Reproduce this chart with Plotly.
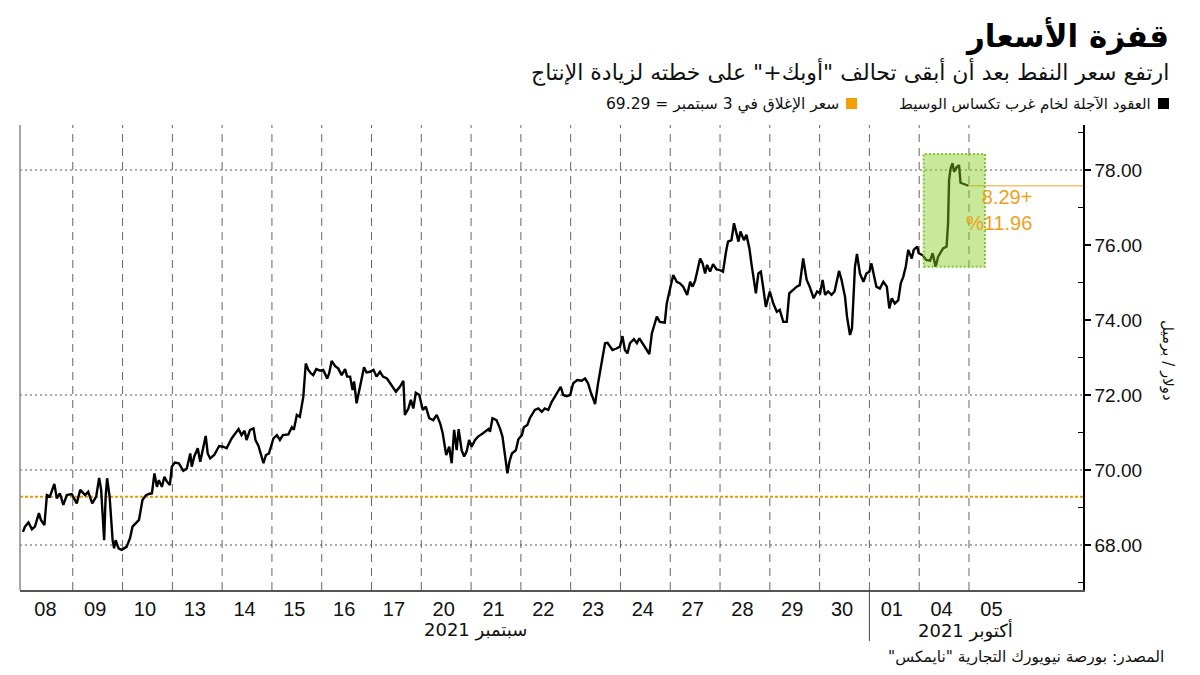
import plotly.graph_objects as go

# ---------------- data ----------------
DAY_LABELS = ["08", "09", "10", "13", "14", "15", "16", "17", "20", "21",
              "22", "23", "24", "27", "28", "29", "30", "01", "04", "05"]
MONTH_LABELS = ["سبتمبر 2021", "أكتوبر 2021"]
OCT_FIRST_DAY = 17          # index of "01" in DAY_LABELS

# time in trading-day units (day index + fraction of day), WTI futures price
TIME_A = [0.00, 0.04, 0.11, 0.18, 0.24, 0.32, 0.36, 0.43, 0.48, 0.54, 0.63, 0.68, 0.74, 0.81, 0.88, 0.98,
          1.08, 1.15, 1.25, 1.31, 1.39, 1.47, 1.53, 1.57, 1.59, 1.63, 1.66, 1.69, 1.74, 1.80, 1.83, 1.86,
          1.92, 1.98, 2.08, 2.15, 2.20, 2.29, 2.33, 2.40, 2.47, 2.53, 2.59, 2.64, 2.69, 2.73, 2.79, 2.84,
          2.89, 2.95, 2.99, 3.05, 3.13, 3.22, 3.29, 3.36, 3.39, 3.44, 3.51, 3.56, 3.62, 3.67, 3.71, 3.76,
          3.84, 3.94, 4.02, 4.09, 4.19, 4.33, 4.39, 4.45, 4.49, 4.56, 4.63, 4.67, 4.73, 4.78, 4.83, 4.88, 4.94]
PRICE_A = [68.35, 68.49, 68.60, 68.42, 68.49, 68.85, 68.67, 68.53, 69.33, 69.29, 69.63, 69.24, 69.38, 69.07, 69.33, 69.36,
           69.11, 69.47, 69.33, 69.42, 69.11, 69.29, 69.79, 69.47, 69.02, 68.13, 69.29, 69.78, 69.29, 68.13, 67.91, 68.13,
           67.91, 67.87, 67.95, 68.18, 68.49, 68.62, 68.67, 69.20, 69.33, 69.36, 69.38, 69.91, 69.55, 69.73, 69.55, 69.82,
           69.69, 69.60, 70.09, 70.20, 70.18, 69.98, 70.04, 70.44, 70.09, 70.36, 70.58, 70.22, 70.62, 70.91, 70.44, 70.31,
           70.40, 70.64, 70.62, 70.58, 70.84, 71.09, 70.93, 71.05, 70.80, 71.07, 71.11, 70.80, 70.64, 70.44, 70.18, 70.40, 70.44]

TIME_B = [5.03, 5.10, 5.16, 5.22, 5.33, 5.40, 5.44, 5.50, 5.56, 5.63, 5.68, 5.73, 5.78, 5.83, 5.89, 5.97,
          6.03, 6.11, 6.15, 6.20, 6.27, 6.33, 6.40, 6.47, 6.51, 6.57, 6.62, 6.65, 6.70, 6.75, 6.80, 6.85,
          6.90, 6.97, 7.04, 7.10, 7.17, 7.23, 7.31, 7.39, 7.49, 7.57, 7.64, 7.67, 7.74, 7.79, 7.84, 7.89,
          7.96, 8.03, 8.09, 8.16, 8.24, 8.31, 8.38, 8.43, 8.50, 8.56, 8.61, 8.66, 8.71, 8.75, 8.81, 8.86,
          8.91, 8.96, 9.01, 9.08, 9.14, 9.24, 9.35, 9.38, 9.43, 9.51, 9.58, 9.63, 9.68, 9.73, 9.77, 9.82,
          9.90, 9.95, 10.02, 10.06, 10.13]
PRICE_B = [70.84, 70.93, 70.80, 70.93, 70.95, 71.14, 71.07, 71.47, 71.42, 71.95, 72.84, 72.67, 72.58, 72.53, 72.69, 72.65,
           72.67, 72.44, 72.58, 72.91, 72.77, 72.71, 72.53, 72.69, 72.49, 72.49, 72.13, 72.36, 71.78, 72.13, 72.44, 72.74,
           72.60, 72.62, 72.67, 72.49, 72.62, 72.49, 72.44, 72.27, 72.09, 72.22, 72.38, 71.47, 71.64, 71.87, 71.64, 72.06,
           72.00, 71.60, 71.69, 71.38, 71.33, 71.47, 71.24, 70.98, 70.40, 70.62, 70.18, 71.07, 70.53, 71.09, 70.53, 70.36,
           70.49, 70.80, 70.62, 70.80, 70.89, 70.98, 71.09, 71.02, 71.38, 71.33, 71.11, 70.89, 70.44, 69.91, 70.22, 70.44,
           70.53, 70.82, 70.93, 71.14, 71.20]

TIME_C = [10.18, 10.28, 10.35, 10.42, 10.48, 10.55, 10.62, 10.68, 10.75, 10.80, 10.85, 10.92, 10.99, 11.05, 11.13, 11.22,
          11.29, 11.35, 11.40, 11.44, 11.49, 11.55, 11.62, 11.69, 11.74, 11.79, 11.84, 11.92, 11.99, 12.04, 12.09, 12.14,
          12.19, 12.27, 12.33, 12.38, 12.45, 12.51, 12.58, 12.63, 12.73, 12.79, 12.89, 12.93, 12.99, 13.06, 13.13, 13.19,
          13.26, 13.34, 13.40, 13.45, 13.50, 13.54, 13.60, 13.65, 13.70, 13.74, 13.80, 13.86, 13.93, 14.00, 14.06, 14.12,
          14.16, 14.23, 14.28, 14.33, 14.37, 14.41, 14.48, 14.53, 14.59, 14.63, 14.67, 14.72, 14.77, 14.82, 14.87, 14.92]
PRICE_C = [71.38, 71.60, 71.64, 71.55, 71.64, 71.60, 71.82, 71.95, 72.09, 72.22, 72.00, 71.97, 72.00, 72.31, 72.40, 72.38,
           72.44, 72.31, 72.09, 71.95, 71.76, 72.31, 72.80, 73.38, 73.39, 73.29, 73.20, 73.24, 73.29, 73.57, 73.20, 73.11,
           73.38, 73.49, 73.38, 73.51, 73.38, 73.24, 73.09, 73.64, 74.09, 73.95, 73.93, 74.44, 74.80, 75.20, 75.02, 74.98,
           74.89, 74.67, 75.02, 74.89, 75.05, 75.29, 75.64, 75.51, 75.24, 75.47, 75.29, 75.49, 75.35, 75.33, 75.29, 75.82,
           76.09, 76.13, 76.58, 76.31, 76.09, 76.36, 76.13, 76.27, 75.91, 75.51, 75.15, 74.71, 75.24, 75.29, 74.84, 74.35]

TIME_D = [15.00, 15.07, 15.14, 15.20, 15.27, 15.34, 15.39, 15.47, 15.54, 15.60, 15.67, 15.74, 15.80, 15.88, 15.95, 16.01,
          16.06, 16.11, 16.17, 16.24, 16.30, 16.39, 16.44, 16.51, 16.55, 16.61, 16.65, 16.71, 16.75, 16.81, 16.88, 16.94,
          17.00, 17.04, 17.09, 17.14, 17.21, 17.28, 17.35, 17.40, 17.45, 17.51, 17.58, 17.63, 17.68, 17.73, 17.78, 17.85,
          17.89, 17.96, 17.99, 18.07, 18.14, 18.22, 18.27, 18.33, 18.38, 18.43, 18.48, 18.55, 18.58, 18.60, 18.63, 18.67,
          18.70, 18.75, 18.80, 18.83, 18.88, 18.95, 18.99]
PRICE_D = [74.76, 74.44, 74.22, 74.27, 73.95, 73.95, 74.71, 74.80, 74.89, 74.93, 75.64, 75.07, 74.89, 74.58, 74.76, 74.71,
           75.07, 74.67, 74.76, 74.67, 74.76, 75.31, 75.07, 74.62, 74.09, 73.60, 73.78, 75.42, 75.76, 75.24, 75.02, 75.24,
           75.29, 75.51, 75.15, 74.89, 74.84, 75.02, 74.89, 74.31, 74.58, 74.44, 74.53, 74.98, 75.15, 75.42, 75.87, 75.64,
           75.87, 75.96, 75.78, 75.73, 75.60, 75.58, 75.78, 75.42, 75.69, 75.82, 75.91, 75.96, 76.58, 77.73, 78.04, 78.18,
           77.95, 78.07, 78.13, 77.66, 77.64, 77.60, 77.58]

CLOSE_SEP3 = 69.29
LAST_PRICE = 77.58
GRID_LEVELS = [68, 70, 72, 78]
Y_TICKS = [68, 70, 72, 74, 76, 78]
HIGHLIGHT_T = [18.09, 19.32]
HIGHLIGHT_P = [75.42, 78.43]

# ---------------- build ----------------
TIME = TIME_A + TIME_B + TIME_C + TIME_D
PRICE = PRICE_A + PRICE_B + PRICE_C + PRICE_D
assert len(TIME) == len(PRICE)

X_MIN, X_MAX = -0.06, 21.29
Y_MIN, Y_MAX = 66.8, 79.2

# layout geometry (pixels)
W, H = 1200, 675
L, R, T, B = 20, 1083, 125, 590
PW, PH = R - L, B - T


def px(x):
    return (x - L) / PW


def py(y):
    return (B - y) / PH


ORANGE = "#EFA11A"
AR = "DejaVu Sans"
NUM = "Liberation Sans"

fig = go.Figure()
fig.add_trace(go.Scatter(x=TIME, y=PRICE, mode="lines",
                         line=dict(color="black", width=2.4), hoverinfo="skip",
                         showlegend=False))

shapes = []
# vertical day separators
for k in range(1, len(DAY_LABELS)):
    shapes.append(dict(type="line", xref="x", yref="paper", x0=k, x1=k, y0=0, y1=1,
                       line=dict(color="#666", width=1, dash="8px,6px"), layer="below"))
# month separator extending below axis
shapes.append(dict(type="line", xref="x", yref="paper", x0=OCT_FIRST_DAY, x1=OCT_FIRST_DAY,
                   y0=py(641), y1=0, line=dict(color="#444", width=1)))
# horizontal gridlines
for g in GRID_LEVELS:
    shapes.append(dict(type="line", xref="paper", yref="y", x0=0, x1=1, y0=g, y1=g,
                       line=dict(color="#555", width=1, dash="2px,3px"), layer="below"))
# 3 Sept close line
shapes.append(dict(type="line", xref="paper", yref="y", x0=0, x1=1, y0=CLOSE_SEP3, y1=CLOSE_SEP3,
                   line=dict(color="#E59A00", width=2, dash="3px,2px"), layer="below"))
# latest price line
shapes.append(dict(type="line", xref="x", yref="y", x0=TIME[-1], x1=X_MAX, y0=LAST_PRICE, y1=LAST_PRICE,
                   line=dict(color="#F5C070", width=1.6), layer="below"))
# highlight box
shapes.append(dict(type="rect", xref="x", yref="y", x0=HIGHLIGHT_T[0], x1=HIGHLIGHT_T[1],
                   y0=HIGHLIGHT_P[0], y1=HIGHLIGHT_P[1],
                   fillcolor="rgba(133,204,30,0.45)",
                   line=dict(color="#86C232", width=2, dash="2px,2px"), layer="above"))
# left frame line
shapes.append(dict(type="line", xref="paper", yref="paper", x0=0, x1=0, y0=0, y1=1,
                   line=dict(color="#888", width=1.5)))
# legend squares
shapes.append(dict(type="rect", xref="paper", yref="paper", x0=px(1158), x1=px(1169),
                   y0=py(109), y1=py(98), fillcolor="black", line=dict(width=0)))
shapes.append(dict(type="rect", xref="paper", yref="paper", x0=px(846), x1=px(857),
                   y0=py(109), y1=py(98), fillcolor="#F29F05", line=dict(width=0)))

change = LAST_PRICE - CLOSE_SEP3
pct = change / CLOSE_SEP3 * 100

annotations = [
    dict(text="<b>قفزة الأسعار</b>", x=px(1171), y=py(36), xanchor="right", yanchor="middle",
         font=dict(family=AR, size=31, color="black")),
    dict(text='ارتفع سعر النفط بعد أن أبقى تحالف "أوبك+" على خطته لزيادة الإنتاج', x=px(1171), y=py(72),
         xanchor="right", yanchor="middle", font=dict(family=AR, size=22, color="#111")),
    dict(text="العقود الآجلة لخام غرب تكساس الوسيط", x=px(1153), y=py(104), xanchor="right",
         yanchor="middle", font=dict(family=AR, size=15, color="#111")),
    dict(text="سعر الإغلاق في 3 سبتمبر = " + f"{CLOSE_SEP3:.2f}", x=px(841), y=py(104), xanchor="right",
         yanchor="middle", font=dict(family=AR, size=15.5, color="#111")),
    dict(text=MONTH_LABELS[0], x=px(475), y=py(630), xanchor="center", yanchor="middle",
         font=dict(family=AR, size=18, color="#111")),
    dict(text=MONTH_LABELS[1], x=px(965), y=py(630), xanchor="center", yanchor="middle",
         font=dict(family=AR, size=18, color="#111")),
    dict(text='المصدر: بورصة نيويورك التجارية "نايمكس"\u200F', x=px(1166), y=py(657), xanchor="right",
         yanchor="middle", font=dict(family=AR, size=15.5, color="#111")),
    dict(text="دولار / برميل", x=px(1168), y=py(360), xanchor="center", yanchor="middle",
         textangle=90, font=dict(family=AR, size=15, color="#111")),
    dict(text=f"{change:.2f}+<br>%{pct:.2f}", xref="x", yref="y", x=20.3, y=76.93,
         xanchor="right", yanchor="middle", align="right",
         font=dict(family=NUM, size=20, color=ORANGE)),
]
for a in annotations:
    a.setdefault("xref", "paper")
    a.setdefault("yref", "paper")
    a["showarrow"] = False

fig.update_layout(
    width=W, height=H,
    margin=dict(l=L, r=W - R, t=T, b=H - B),
    paper_bgcolor="white", plot_bgcolor="white",
    font=dict(family=AR, color="#111"),
    shapes=shapes, annotations=annotations,
    xaxis=dict(range=[X_MIN, X_MAX], showgrid=False, zeroline=False,
               tickmode="array", tickvals=[i + 0.45 for i in range(len(DAY_LABELS))],
               ticktext=DAY_LABELS, ticks="", showline=True, linecolor="#555", linewidth=1.5,
               tickfont=dict(family=NUM, size=20, color="#111")),
    yaxis=dict(range=[Y_MIN, Y_MAX], side="right", showgrid=False, zeroline=False,
               tickmode="array", tickvals=Y_TICKS, tickformat=".2f",
               ticks="outside", ticklen=6, tickwidth=2, tickcolor="black",
               showline=True, linecolor="black", linewidth=1.5,
               minor=dict(ticks="inside", ticklen=5, tickwidth=1, tickcolor="black",
                          tickvals=[v + 1 for v in range(66, 80, 2)], showgrid=False),
               tickfont=dict(family=NUM, size=19, color="#111")),
)

fig.write_html("out.html")
